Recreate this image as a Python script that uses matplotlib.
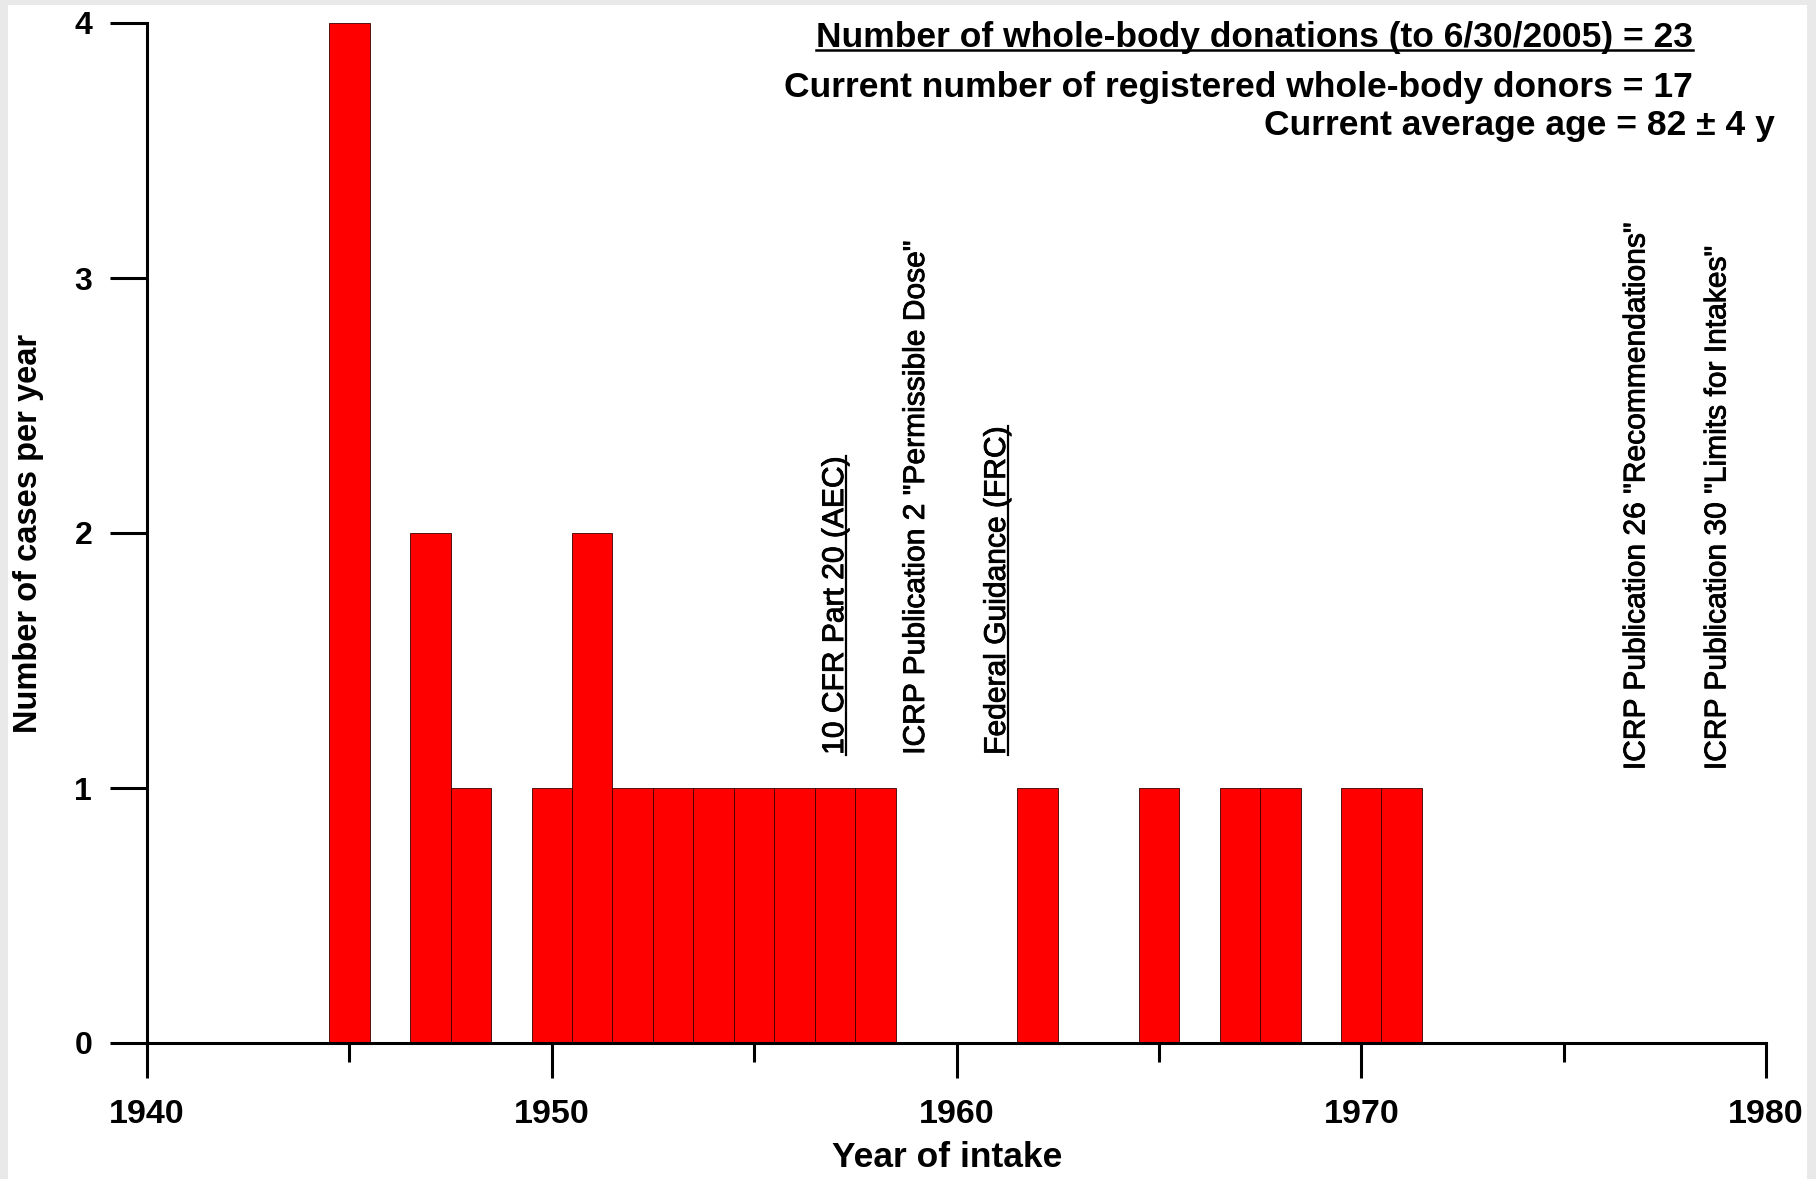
import matplotlib
matplotlib.use("Agg")
import matplotlib.pyplot as plt
import matplotlib.patheffects as pe
from matplotlib.patches import Rectangle
from matplotlib.lines import Line2D
from matplotlib.ticker import MultipleLocator

# data
years = [1945, 1947, 1948, 1950, 1951, 1952, 1953, 1954, 1955, 1956, 1957, 1958,
         1962, 1965, 1967, 1968, 1970, 1971]
cases = [4, 2, 1, 1, 2, 1, 1, 1, 1, 1, 1, 1, 1, 1, 1, 1, 1, 1]

event_years = [1957, 1959, 1961, 1976.8, 1978.8]
event_labels = ['10 CFR Part 20 (AEC)',
                'ICRP Publication 2 "Permissible Dose"',
                'Federal Guidance (FRC)',
                'ICRP Publication 26 "Recommendations"',
                'ICRP Publication 30 "Limits for Intakes"']
event_underlined = [True, False, True, False, False]
event_base = [1.13, 1.13, 1.13, 1.07, 1.07]

info_lines = ['Number of whole-body donations (to 6/30/2005) = 23',
              'Current number of registered whole-body donors = 17',
              'Current average age = 82 \u00b1 4 y']

x_ticks = [1940, 1950, 1960, 1970, 1980]
y_ticks = [0, 1, 2, 3, 4]

sans = ['Liberation Sans', 'Arial', 'DejaVu Sans']
narrow = ['Liberation Sans Narrow', 'Liberation Sans', 'DejaVu Sans']

W, H = 1816, 1179
fig = plt.figure(figsize=(W / 100, H / 100), dpi=100, facecolor='#e9e9e9')
# white panel inside the grey frame
fig.patches.append(Rectangle((8 / W, 0), (1807 - 8) / W, (H - 5) / H,
                             transform=fig.transFigure, facecolor='white',
                             edgecolor='none', zorder=-10))

ax = fig.add_axes([147 / W, 1 - 1043 / H, (1766 - 147) / W, (1043 - 23) / H])
ax.set_facecolor('none')

ax.bar(years, cases, width=1.0, color='#ff0000', edgecolor='#3a0000',
       linewidth=0.6, zorder=2)

ax.set_xlim(1940, 1980)
ax.set_ylim(0, 4)
for s in ['top', 'right']:
    ax.spines[s].set_visible(False)
for s in ['left', 'bottom']:
    ax.spines[s].set_linewidth(2.2)
    ax.spines[s].set_zorder(3)

ax.set_xticks(x_ticks)
ax.xaxis.set_minor_locator(MultipleLocator(5))
ax.set_yticks(y_ticks)
ax.tick_params(axis='x', which='major', direction='out', length=25, width=2.2,
               pad=15, labelsize=24.5)
ax.tick_params(axis='x', which='minor', direction='out', length=13.5, width=2.2)
ax.tick_params(axis='y', which='major', direction='out', length=26.5, width=2.2,
               pad=13, labelsize=23)
for lab in ax.get_xticklabels() + ax.get_yticklabels():
    lab.set_fontfamily(sans)
    lab.set_fontweight('bold')

ax.set_xlabel('Year of intake', fontsize=25.5, fontweight='bold', family=sans)
ax.xaxis.set_label_coords(0.494, -0.096)
ax.set_ylabel('Number of cases per year', fontsize=23.5, fontweight='bold',
              family=sans)
ax.yaxis.set_label_coords(-0.0636, 0.5)

# regulatory milestones, rotated
event_texts = []
for x, lab, base, ul in zip(event_years, event_labels, event_base, event_underlined):
    t = ax.text(x, base, lab, rotation=90, ha='center', va='bottom',
                fontsize=21.6, family=sans, color='black', zorder=4,
                path_effects=[pe.withStroke(linewidth=0.6, foreground='black')])
    event_texts.append((t, ul))

# summary lines at top right
info_pos = [(1693 / W, 1 - 38 / H), (1693 / W, 1 - 87 / H), (1775 / W, 1 - 125 / H)]
info_texts = []
for (x, y), line in zip(info_pos, info_lines):
    t = fig.text(x, y, line, ha='right', va='center', fontsize=25.5,
                 fontweight='bold', family=narrow)
    info_texts.append(t)

# underlines
fig.canvas.draw()
r = fig.canvas.get_renderer()
for t, ul in event_texts:
    if not ul:
        continue
    bb = t.get_window_extent(r)
    xl = bb.x1 - 0.12 * bb.width
    fig.add_artist(Line2D([xl / W, xl / W], [bb.y0 / H, bb.y1 / H],
                          transform=fig.transFigure, color='black', lw=1.6))
bb = info_texts[0].get_window_extent(r)
yl = bb.y0 + 0.14 * bb.height
fig.add_artist(Line2D([bb.x0 / W, bb.x1 / W], [yl / H, yl / H],
                      transform=fig.transFigure, color='black', lw=1.8))

fig.savefig('out.png', dpi=100, facecolor=fig.get_facecolor())
